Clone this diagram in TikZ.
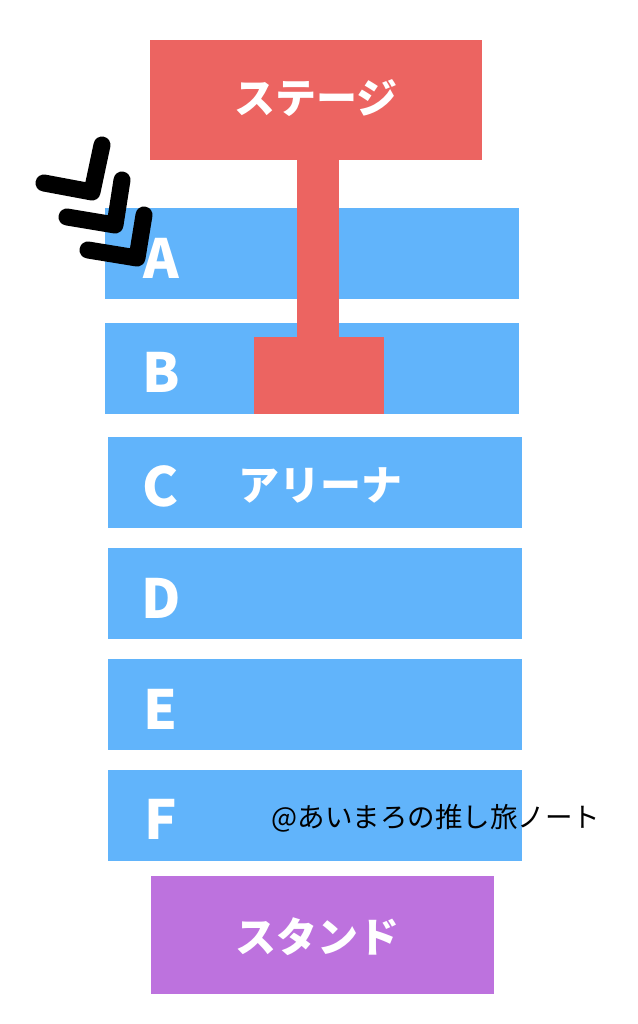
\documentclass[tikz,border=0pt]{standalone}
\usepackage{fontspec}
\setmainfont{Noto Sans CJK JP}
\usepackage{tikz}
\definecolor{stagered}{HTML}{EC6461}
\definecolor{seatblue}{HTML}{61B4FB}
\definecolor{standpurple}{HTML}{BD72DE}

\begin{document}
\begin{tikzpicture}[x=1pt,y=-1pt,
    block/.style={rectangle,inner sep=0pt,draw=none},
    row/.style={block,fill=seatblue,minimum width=414pt,minimum height=91pt},
    rowlabel/.style={text=white,font=\bfseries\fontsize{54}{54}\selectfont},
    bigtext/.style={text=white,font=\bfseries\fontsize{41}{41}\selectfont}]

\useasboundingbox[fill=white] (0,0) rectangle (637,1024);

% seat rows
\node[row] (A) at (312,253.5) {};
\node[row] (B) at (312,368.5) {};
\node[row] (C) at (315,482.5) {};
\node[row] (D) at (315,593.5) {};
\node[row] (E) at (315,704.5) {};
\node[row] (F) at (315,815.5) {};

% stage with runway
\node[block, fill=stagered, minimum width=332pt, minimum height=120pt] (stage) at (316,100) {};
\node[block, fill=stagered, minimum width=130pt, minimum height=77pt] (center) at (319,375.5) {};
\fill[stagered] ([xshift=-19.5pt]stage.south) rectangle ([xshift=19.5pt]center.north);
\node[bigtext] (stagelabel) at (316,98) {ステージ};

\node[block, fill=standpurple, minimum width=343pt, minimum height=118pt] (stand) at (322.5,935) {};
\node[bigtext] (standlabel) at (317,937) {スタンド};

% row letters
\foreach \r/\y in {A/258, B/372, C/486, D/598, E/709, F/819}
  \node[rowlabel] (lab\r) at (161,\y) {\r};
\node[bigtext] (arena) at (320,485) {アリーナ};

\node[anchor=west, font=\fontsize{27.5}{27.5}\selectfont] (credit) at (268,818) {@あいまろの推し旅ノート};

% chevrons
\foreach \lx/\ly/\cx/\cy/\tx/\ty in {44/183/92/192/102/145, 67/217/115/225/122/180, 88/250/137/258/144/215}
  \draw[line width=17pt, line cap=round, line join=round] (\lx,\ly) -- (\cx,\cy) -- (\tx,\ty);

\end{tikzpicture}
\end{document}
